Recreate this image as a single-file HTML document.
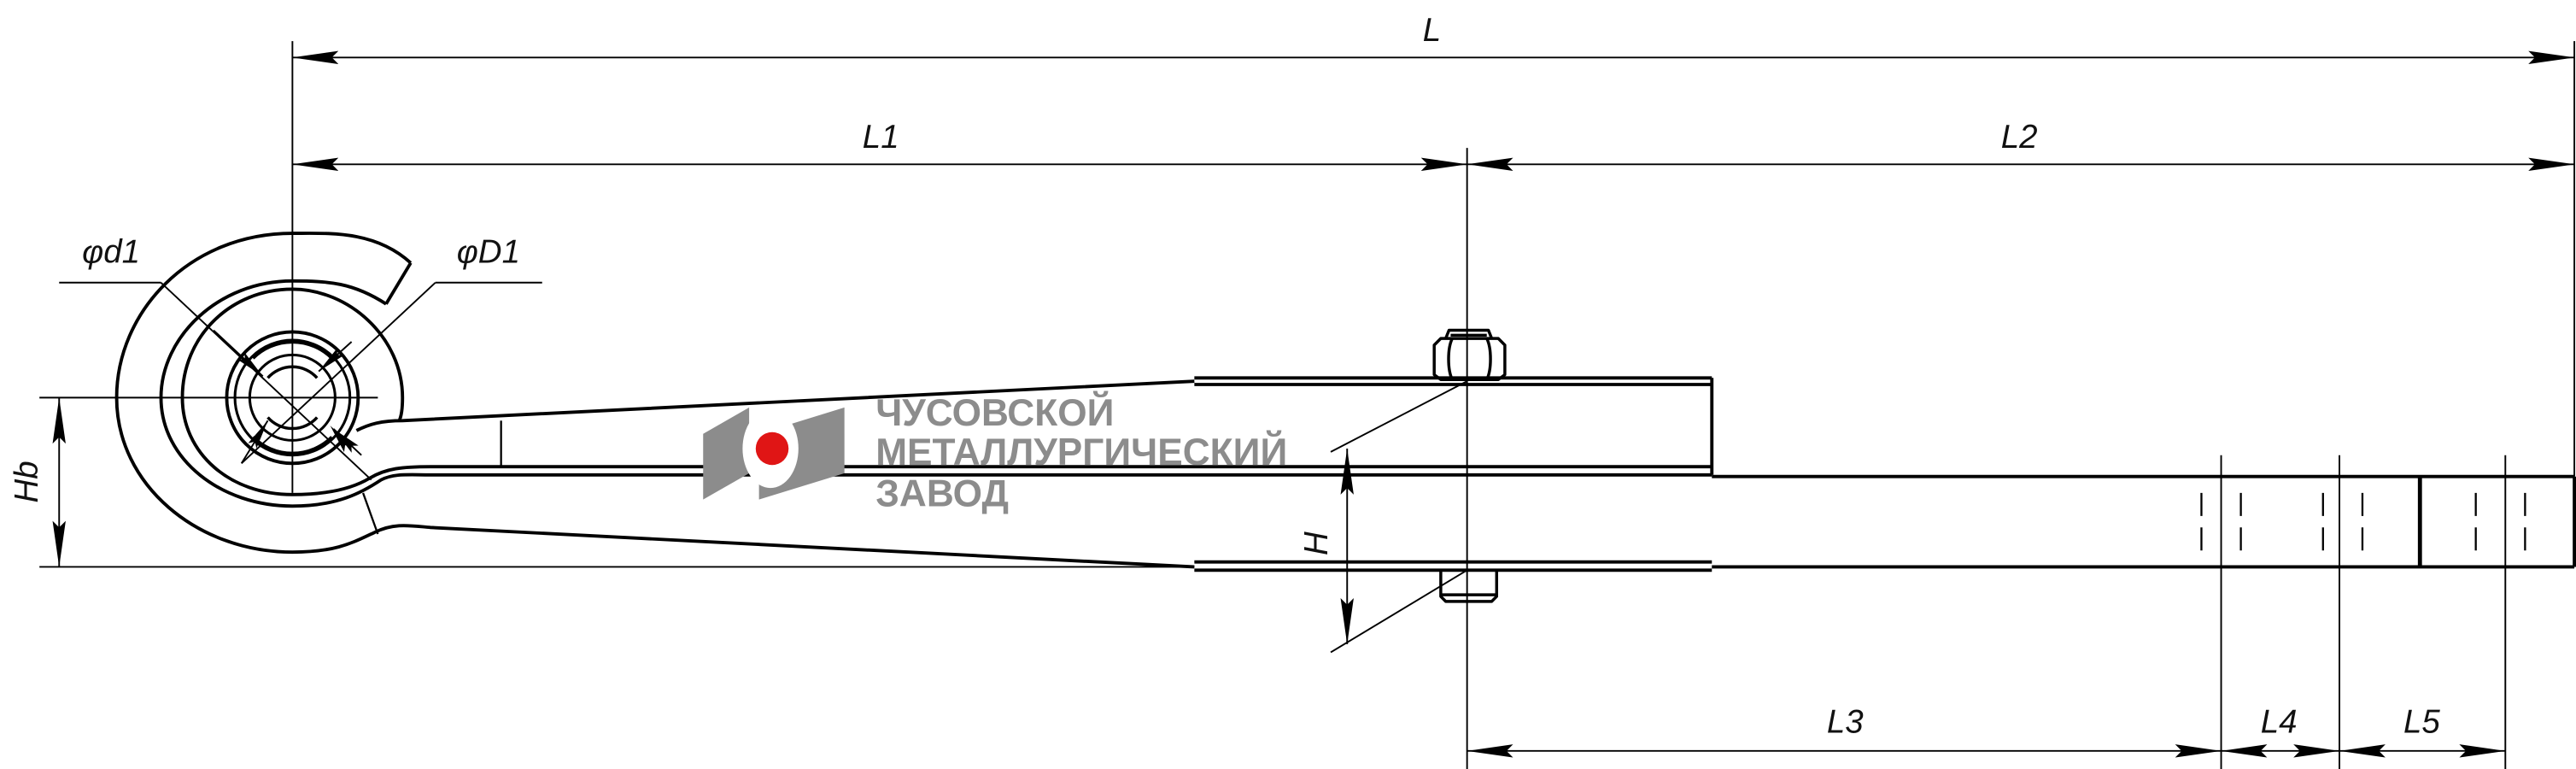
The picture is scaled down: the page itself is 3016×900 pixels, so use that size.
<!DOCTYPE html>
<html><head><meta charset="utf-8"><style>
html,body{margin:0;padding:0;background:#fff}
svg{display:block}
.t{font-family:"Liberation Sans",sans-serif;font-style:italic;font-size:20px;fill:#111}
.g{font-family:"Liberation Sans",sans-serif;font-weight:bold;font-size:23px;fill:#8c8c8c}
</style></head><body>
<svg width="3016" height="900" viewBox="0 0 1568 468" preserveAspectRatio="none" xmlns="http://www.w3.org/2000/svg">
<defs>
<marker id="a" viewBox="0 0 28 8" refX="28" refY="4" markerWidth="28" markerHeight="8" markerUnits="userSpaceOnUse" orient="auto-start-reverse">
<path d="M0,0 L28,4 L0,8 L4,4 z" fill="#000"/></marker>
<marker id="b" viewBox="0 0 18 6" refX="18" refY="3" markerWidth="18" markerHeight="6" markerUnits="userSpaceOnUse" orient="auto-start-reverse">
<path d="M0,0 L18,3 L0,6 L3,3 z" fill="#000"/></marker>
</defs>
<rect width="1568" height="468" fill="#fff"/>
<g stroke="#000" stroke-width="1" fill="none">
<line x1="178" y1="25" x2="178" y2="300"/>
<line x1="893" y1="90" x2="893" y2="468"/>
<line x1="1567" y1="25" x2="1567" y2="290"/>
<line x1="1352" y1="277" x2="1352" y2="468"/>
<line x1="1424" y1="277" x2="1424" y2="468"/>
<line x1="1525" y1="277" x2="1525" y2="468"/>
<line x1="24" y1="242" x2="230" y2="242"/>
<line x1="24" y1="345" x2="727" y2="345"/>
<line x1="178" y1="35" x2="1567" y2="35" marker-start="url(#a)" marker-end="url(#a)"/>
<line x1="178" y1="100" x2="893" y2="100" marker-start="url(#a)" marker-end="url(#a)"/>
<line x1="893" y1="100" x2="1567" y2="100" marker-start="url(#a)" marker-end="url(#a)"/>
<line x1="893" y1="457" x2="1352" y2="457" marker-start="url(#a)" marker-end="url(#a)"/>
<line x1="1352" y1="457" x2="1424" y2="457" marker-start="url(#a)" marker-end="url(#a)"/>
<line x1="1424" y1="457" x2="1525" y2="457" marker-start="url(#a)" marker-end="url(#a)"/>
<line x1="36" y1="242" x2="36" y2="345" marker-start="url(#a)" marker-end="url(#a)"/>
<line x1="820" y1="273" x2="820" y2="392" marker-start="url(#a)" marker-end="url(#a)"/>
<line x1="893" y1="232" x2="810" y2="275"/>
<line x1="893" y1="347" x2="810" y2="397"/>
<line x1="36" y1="172" x2="98" y2="172"/>
<line x1="98" y1="172" x2="226" y2="292"/>
<line x1="330" y1="172" x2="265" y2="172"/>
<line x1="265" y1="172" x2="147" y2="282"/>
<line x1="130" y1="201" x2="160" y2="229" marker-end="url(#b)"/>
<line x1="226" y1="292" x2="201" y2="259" marker-end="url(#b)" stroke="none"/>
<line x1="220" y1="277" x2="203" y2="261" marker-end="url(#b)"/>
<line x1="214" y1="208" x2="194" y2="226" marker-end="url(#b)"/>
<line x1="147" y1="282" x2="163" y2="256" marker-end="url(#b)"/>
</g>
<g stroke="#000" stroke-width="2" fill="none" stroke-linejoin="round">
<path d="M250,160 C228,140 200,142 178,142 C115,142 71,190 71,242 C71,295 120,336 178,336 C205,336 215,330 228,324 C240,318 250,320 262,321 L727,345"/>
<path d="M250,160 L235,185"/>
<path d="M235,185 C215,172 200,171 178,171 C133,171 98,205 98,242 C98,280 135,308 178,308 C205,308 220,300 232,292 C240,288 248,289 262,289 L1042,289"/>
<path d="M178,176 C140,176 111,205 111,242 C111,276 140,301 178,301 C200,301 215,297 225,291 C235,285 245,284 262,284 L1042,284"/>
<path d="M178,176 C212,176 245,205 245,242 C245,250 244,254 243,256"/>
<path d="M217,262 C225,258 232,256 245,256 L727,232"/>
<ellipse cx="178" cy="242" rx="40" ry="40"/>
<ellipse cx="178" cy="242" rx="35" ry="35" stroke-width="1.6"/>
<path d="M154,218 A34,34 0 0 1 202,218 M154,266 A34,34 0 0 0 202,266" stroke-width="2"/>
<circle cx="178" cy="242" r="26" stroke-width="1.6"/>
<path d="M163,230 A20,20 0 0 1 193,230 M163,254 A20,20 0 0 0 193,254" stroke-width="1.8"/>
<line x1="727" y1="230" x2="1042" y2="230"/>
<line x1="727" y1="234" x2="1042" y2="234"/>
<line x1="1042" y1="230" x2="1042" y2="289"/>
<line x1="727" y1="342" x2="1042" y2="342"/>
<line x1="727" y1="347" x2="1042" y2="347"/>
<line x1="1042" y1="290" x2="1567" y2="290"/>
<line x1="1042" y1="345" x2="1567" y2="345"/>
<line x1="1567" y1="290" x2="1567" y2="345"/>
<line x1="1473" y1="290" x2="1473" y2="345" stroke-width="2.5"/>
<path d="M873,228 L873,210 L877,206 L912,206 L916,210 L916,228 L912,231 L877,231 Z M884,206 C881,212 881,225 884,231 M905,206 C908,212 908,225 905,231 M880,206 L882,201 L906,201 L908,206 M883,204 L905,204" stroke-width="1.8"/>
<path d="M877,347 L877,363 L880,366 L908,366 L911,363 L911,347 M877,362 L911,362" stroke-width="1.8"/>
</g>
<g stroke="#000" stroke-width="1.2">
<line x1="305" y1="256" x2="305" y2="284"/>
<line x1="221" y1="300" x2="230" y2="325"/>
<path d="M1340,300 v14 M1340,321 v14 M1364,300 v14 M1364,321 v14 M1414,300 v14 M1414,321 v14 M1438,300 v14 M1438,321 v14 M1507,300 v14 M1507,321 v14 M1537,300 v14 M1537,321 v14"/>
</g>
<polygon points="428,264 456,248 456,288 428,304" fill="#8c8c8c"/>
<polygon points="462,264 514,248 514,288 462,304" fill="#8c8c8c"/>
<ellipse cx="469" cy="273" rx="17" ry="24" fill="#fff"/>
<circle cx="470" cy="273" r="10" fill="#e01515"/>
<text class="g" x="533" y="259">ЧУСОВСКОЙ</text>
<text class="g" x="533" y="283">МЕТАЛЛУРГИЧЕСКИЙ</text>
<text class="g" x="533" y="308">ЗАВОД</text>
<text class="t" x="866" y="25">L</text>
<text class="t" x="525" y="90">L1</text>
<text class="t" x="1218" y="90">L2</text>
<text class="t" x="1112" y="446">L3</text>
<text class="t" x="1376" y="446">L4</text>
<text class="t" x="1463" y="446">L5</text>
<text class="t" x="50" y="160">φd1</text>
<text class="t" x="278" y="160">φD1</text>
<text class="t" transform="translate(23,306) rotate(-90)">Hb</text>
<text class="t" transform="translate(808,338) rotate(-90)">H</text>
</svg>
</body></html>
